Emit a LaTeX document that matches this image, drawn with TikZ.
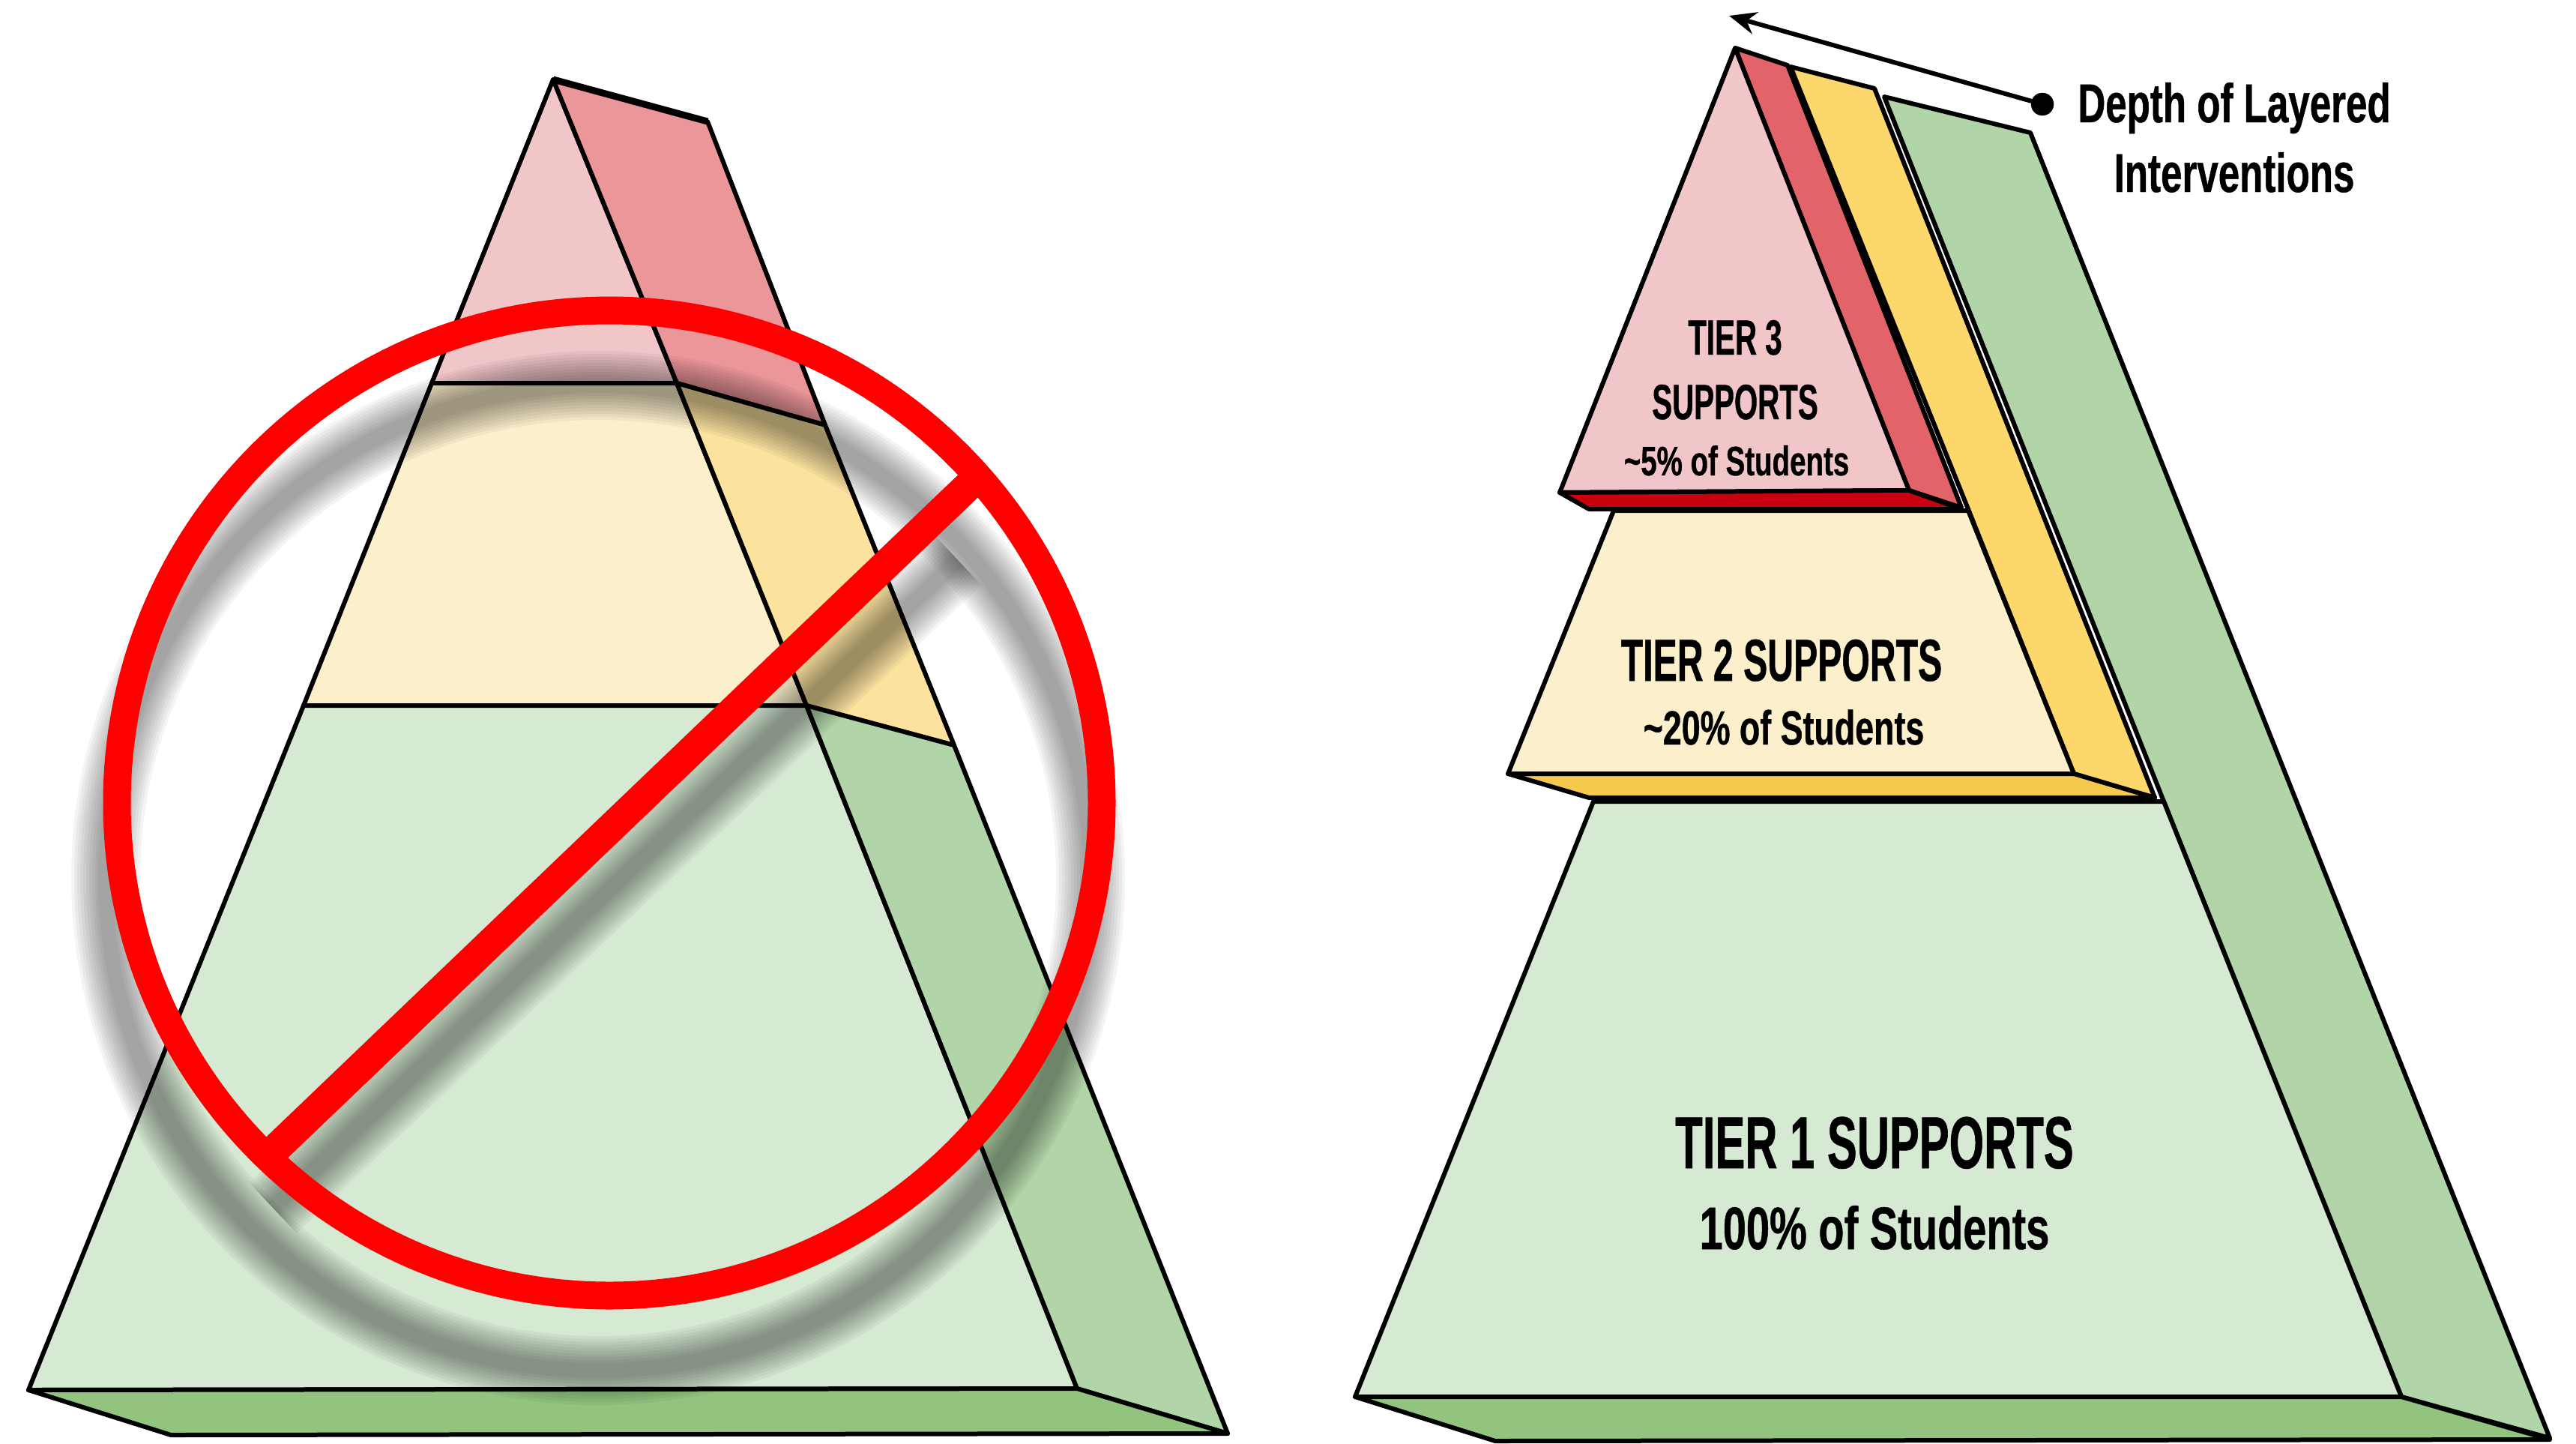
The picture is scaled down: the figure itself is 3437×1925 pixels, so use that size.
\documentclass[tikz,border=0pt]{standalone}
\usepackage{fontspec}
\usepackage{tikz}
\usetikzlibrary{arrows,arrows.meta,positioning,calc}
\newfontfamily\dinfont[FakeStretch=0.70,BoldFeatures={FakeBold=0.6}]{Liberation Sans}
\newfontfamily\dincaps[FakeStretch=0.61,BoldFeatures={FakeBold=0.6}]{Liberation Sans}
\definecolor{redfront}{HTML}{F1C6C9}
\definecolor{redside}{HTML}{E2636A}
\definecolor{redpale}{HTML}{EB9699}
\definecolor{reddark}{HTML}{C8000F}
\definecolor{yelfront}{HTML}{FCEFCB}
\definecolor{yelside}{HTML}{FBD76C}
\definecolor{yelpale}{HTML}{FBE29F}
\definecolor{yelbase}{HTML}{F4C94E}
\definecolor{grnfront}{HTML}{D6E9D3}
\definecolor{grnside}{HTML}{B1D5A8}
\definecolor{grnbase}{HTML}{92C47F}
\definecolor{stopred}{HTML}{FF0000}
\newcommand{\dinsize}[1]{\fontsize{#1}{#1}\selectfont\dinfont\bfseries}
\newcommand{\capsize}[1]{\fontsize{#1}{#1}\selectfont\dincaps\bfseries}
\begin{document}
\begin{tikzpicture}[>=stealth, x=1pt, y=-1pt]
    \tikzset{
        face/.style={draw=black, line width=6pt, line join=round},
        tierlabel/.style={anchor=base, inner sep=0pt, text=black, align=center},
        stopline/.style={draw=stopred, line width=37pt},
        shadowline/.style={draw=black, opacity=0.042}
    }
    \useasboundingbox (0,0) rectangle (3437,1925);

    % Left pyramid
    \coordinate (apexL) at (738,106);
    \coordinate (backL) at (944,162);
    \coordinate (threeL) at (576,511);
    \coordinate (threeM) at (903,511);
    \coordinate (threeR) at (1101,567);
    \coordinate (twoL) at (405,941);
    \coordinate (twoM) at (1076,941);
    \coordinate (twoR) at (1273,994);
    \coordinate (baseL) at (38,1854);
    \coordinate (baseM) at (1437,1852);
    \coordinate (baseR) at (1638,1912);
    \coordinate (baseB) at (228,1914);
    \draw [face, fill=redfront] (apexL) -- (threeM) -- (threeL) -- cycle;
    \draw [face, fill=yelfront] (threeL) -- (threeM) -- (twoM) -- (twoL) -- cycle;
    \draw [face, fill=grnfront] (twoL) -- (twoM) -- (baseM) -- (baseL) -- cycle;
    \draw [face, fill=redpale] (apexL) -- (backL) -- (threeR) -- (threeM) -- cycle;
    \draw [face, fill=yelpale] (threeM) -- (threeR) -- (twoR) -- (twoM) -- cycle;
    \draw [face, fill=grnside] (twoM) -- (twoR) -- (baseR) -- (baseM) -- cycle;
    \draw [face, fill=grnbase] (baseL) -- (baseM) -- (baseR) -- (baseB) -- cycle;
    \draw [line width=9pt] (apexL) -- (backL);

    % Ring and bar with soft shadow
    \coordinate (ringC) at (813,1071);
    \coordinate (barA) at (1293,647);
    \coordinate (barB) at (369,1531);
    \coordinate (shadeA) at ($(barA)+(-15,100)$);
    \coordinate (shadeB) at ($(barB)+(-5,80)$);
    \foreach \w in {92,84,76,68,60,52,44,36,28,20} {
        \draw [shadowline, line width=\w pt] ($(ringC)+(-15,100)$) circle [radius=657];
        \draw [shadowline, line width=\w pt] (shadeA) -- (shadeB);
    }
    \draw [stopline] (ringC) circle [radius=657];
    \draw [stopline, line width=40pt] (barA) -- (barB);

    % Right pyramid, back to front
    \draw [face, fill=grnside] (2514,129) -- (2709,177) -- (3402,1918) -- (3204,1863) -- (2887,1069) -- cycle;
    \draw [face, fill=grnfront] (2126,1069) -- (2887,1069) -- (3204,1863) -- (1808,1863) -- cycle;
    \draw [face, fill=grnbase] (1808,1863) -- (3204,1863) -- (3402,1920) -- (1995,1922) -- cycle;
    \draw [face, fill=yelside] (2389,89) -- (2501,118) -- (2875,1064) -- (2767,1032) -- (2626,679) -- cycle;
    \draw [face, fill=yelfront] (2153,681) -- (2626,681) -- (2767,1032) -- (2012,1032) -- cycle;
    \draw [face, fill=yelbase] (2012,1032) -- (2767,1032) -- (2875,1064) -- (2120,1064) -- cycle;
    \draw [face, fill=redside] (2315,64) -- (2385,87) -- (2617,677) -- (2547,654) -- cycle;
    \draw [face, fill=redfront] (2315,64) -- (2547,654) -- (2081,657) -- cycle;
    \draw [face, fill=reddark] (2081,657) -- (2547,654) -- (2617,679) -- (2120,679) -- cycle;

    % Depth arrow
    \node [draw=black, fill=black, circle, minimum size=30pt, inner sep=0pt] (dot) at (2725,139) {};
    \coordinate (depthtip) at (2307,21);
    \draw [-{Stealth[length=36pt,width=30pt]}, line width=6pt] (dot) -- (depthtip);

    % Labels
    \node [tierlabel, font=\dinsize{73}] (depth) at (2981,163) {Depth of Layered};
    \node [tierlabel, font=\dinsize{73}] (interv) at ($(depth.base)+(0,93)$) {Interventions};
    \node [tierlabel, font=\capsize{66}] (tierthree) at (2315,473) {TIER 3};
    \node [tierlabel, font=\capsize{66}] (supports) at ($(tierthree.base)+(0,86)$) {SUPPORTS};
    \node [tierlabel, font=\dinsize{55}] (pctthree) at ($(supports.base)+(2,75)$) {\textasciitilde5\% of Students};
    \node [tierlabel, font=\capsize{79}] (tiertwo) at (2377,908) {TIER 2 SUPPORTS};
    \node [tierlabel, font=\dinsize{64}] (pcttwo) at ($(tiertwo.base)+(3,85)$) {\textasciitilde20\% of Students};
    \node [tierlabel, font=\capsize{98}] (tierone) at (2501,1558) {TIER 1 SUPPORTS};
    \node [tierlabel, font=\dinsize{80}] (pctone) at ($(tierone.base)+(0,108)$) {100\% of Students};
\end{tikzpicture}
\end{document}
